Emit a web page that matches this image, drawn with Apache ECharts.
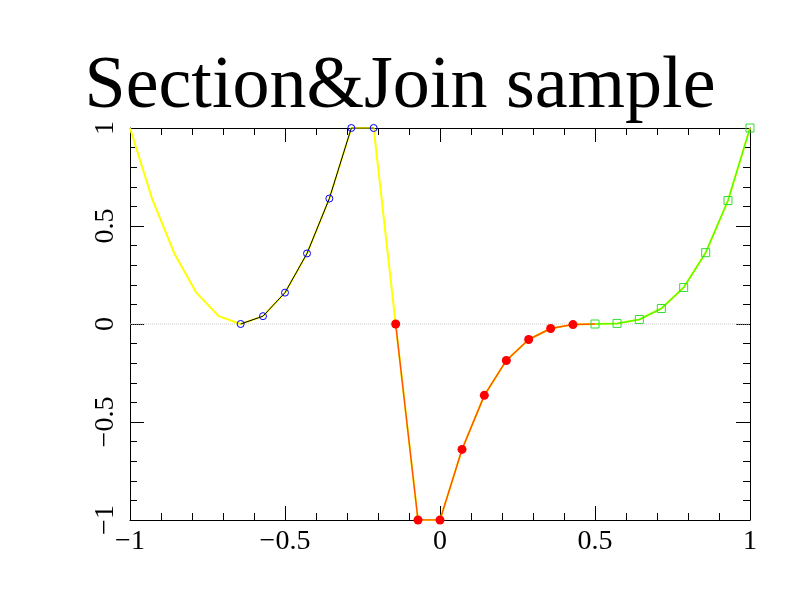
<!DOCTYPE html>
<html><head><meta charset="utf-8">
<script src="https://cdn.jsdelivr.net/npm/echarts@6/dist/echarts.min.js"></script>
<style>body{margin:0}#c{width:800px;height:600px}</style></head>
<body><div id="c"></div>
<script>
const xs = [-1,-0.929,-0.857,-0.786,-0.714,-0.643,-0.571,-0.5,-0.429,-0.357,-0.286,-0.214,-0.143,-0.071,0,0.071,0.143,0.214,0.286,0.357,0.429,0.5,0.571,0.643,0.714,0.786,0.857,0.929,1];
const ys = [1,0.64,0.36,0.16,0.04,0,0.04,0.16,0.36,0.64,1,1,0,-1,-1,-0.64,-0.364,-0.186,-0.079,-0.023,-0.003,0,0.003,0.023,0.079,0.186,0.364,0.63,1];
const xTicks = ['-1','-0.5','0','0.5','1'];
const pts = xs.map((x,i)=>[x,ys[i]]);
const blue = pts.slice(5,12), red = pts.slice(12,21), redLine = pts.slice(12,22), green = pts.slice(21);
const serif = 'Liberation Serif';
const ax = {axisLine:{show:true,onZero:false,lineStyle:{color:'#000'}},axisTick:{inside:true,length:14,lineStyle:{color:'#000'}},
  minorTick:{show:true,splitNumber:5,length:7,lineStyle:{color:'#000'}},splitLine:{show:false},
  axisLabel:{fontFamily:serif,fontSize:28,color:'#000'}};
const chart = echarts.init(document.getElementById('c'));
chart.setOption({
  animation:false,backgroundColor:'#fff',
  title:{text:'Section&Join sample',left:'center',top:46,textStyle:{fontFamily:serif,fontSize:74,fontWeight:'normal',color:'#000'}},
  grid:{left:130,right:50,top:128,bottom:80},
  xAxis:[Object.assign({type:'value',min:-1,max:1,interval:0.5,
     axisLabel:Object.assign({},ax.axisLabel,{margin:8,formatter:v=>xTicks[Math.round((v+1)*2)].replace('-','\u2212')})},
     {axisLine:ax.axisLine,axisTick:ax.axisTick,minorTick:ax.minorTick,splitLine:ax.splitLine}),
    Object.assign({type:'value',min:-1,max:1,interval:0.5,position:'top',axisLabel:{show:false}},{axisLine:ax.axisLine,axisTick:ax.axisTick,minorTick:ax.minorTick,splitLine:ax.splitLine})],
  yAxis:[Object.assign({type:'value',min:-1,max:1,interval:0.5,
     axisLabel:Object.assign({},ax.axisLabel,{rotate:90,margin:10,formatter:v=>String(v).replace('-','\u2212')})},
     {axisLine:ax.axisLine,axisTick:ax.axisTick,minorTick:ax.minorTick,splitLine:ax.splitLine}),
    Object.assign({type:'value',min:-1,max:1,interval:0.5,position:'right',axisLabel:{show:false}},{axisLine:ax.axisLine,axisTick:ax.axisTick,minorTick:ax.minorTick,splitLine:ax.splitLine})],
  series:[
    {type:'line',data:[[-1,0],[1,0]],symbol:'none',lineStyle:{color:'#ccc',type:'dotted',width:1},silent:true},
    {type:'line',data:pts,symbol:'none',lineStyle:{color:'#ffff00',width:2}},
    {type:'line',data:blue,symbol:'circle',symbolSize:7,itemStyle:{color:'none',borderColor:'#0000ff',borderWidth:1},lineStyle:{color:'#000',width:1}},
    {type:'line',data:redLine,symbol:'none',lineStyle:{color:'#ff5500',width:1.5}},
    {type:'scatter',data:red,symbol:'circle',symbolSize:9,itemStyle:{color:'#ff0000',opacity:1},z:5},
    {type:'line',data:green,symbol:'rect',symbolSize:8,itemStyle:{color:'none',borderColor:'#33dd33',borderWidth:1},lineStyle:{color:'#55ff00',width:1.5}}
  ]
});
</script></body></html>
